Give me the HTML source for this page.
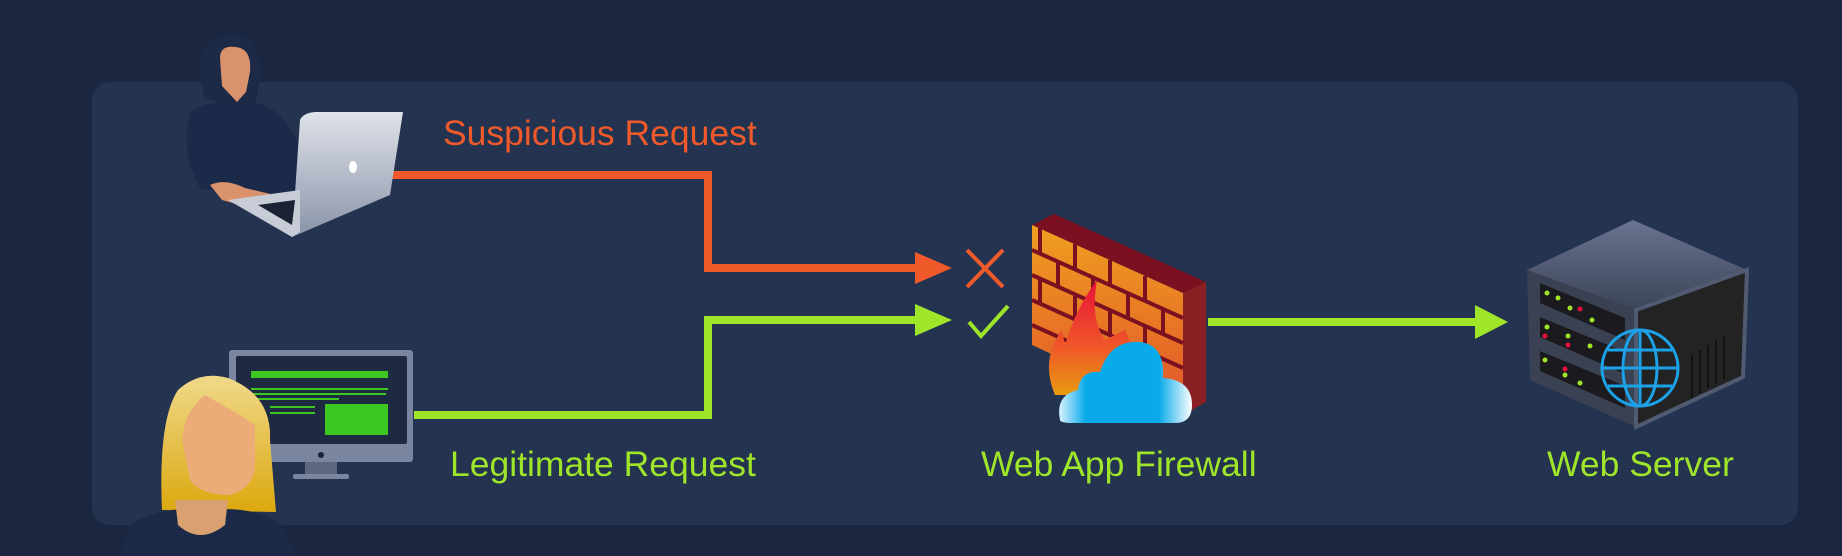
<!DOCTYPE html>
<html><head><meta charset="utf-8"><style>
html,body{margin:0;padding:0;background:#1b2640;width:1842px;height:556px;overflow:hidden}
svg{display:block}
text{font-family:"Liberation Sans",sans-serif;font-size:35.5px}
</style></head><body>
<svg width="1842" height="556" viewBox="0 0 1842 556" xmlns="http://www.w3.org/2000/svg">
<defs>
<linearGradient id="brick" x1="0" y1="0" x2="0" y2="1"><stop offset="0" stop-color="#f0a020"/><stop offset="1" stop-color="#e0502a"/></linearGradient>
<linearGradient id="flame" x1="0" y1="0" x2="0" y2="1"><stop offset="0" stop-color="#e8103a"/><stop offset="0.6" stop-color="#f05a28"/><stop offset="1" stop-color="#e89a10"/></linearGradient>
<linearGradient id="cloud" x1="0" y1="0" x2="1" y2="0"><stop offset="0" stop-color="#d8f2ff"/><stop offset="0.2" stop-color="#08aaea"/><stop offset="0.75" stop-color="#08aaea"/><stop offset="1" stop-color="#ffffff"/></linearGradient>
<linearGradient id="lap" x1="0" y1="0" x2="0" y2="1"><stop offset="0" stop-color="#dfe3ea"/><stop offset="1" stop-color="#8a93a8"/></linearGradient>
<linearGradient id="hair" x1="0" y1="0" x2="0" y2="1"><stop offset="0" stop-color="#efd98a"/><stop offset="1" stop-color="#dca80e"/></linearGradient>
<linearGradient id="srvtop" x1="0" y1="0" x2="0" y2="1"><stop offset="0" stop-color="#6a7390"/><stop offset="1" stop-color="#3c4458"/></linearGradient>
</defs>
<rect x="92" y="82" width="1706" height="443" rx="18" fill="#233350"/>

<polyline points="390,175 708,175 708,268 920,268" fill="none" stroke="#f05a2b" stroke-width="8"/>
<polygon points="915,252 952,268 915,284" fill="#f05a2b"/>
<polyline points="414,415 708,415 708,320 920,320" fill="none" stroke="#9fe52a" stroke-width="8"/>
<polygon points="915,304 952,320 915,336" fill="#9fe52a"/>
<line x1="1208" y1="322" x2="1480" y2="322" stroke="#9fe52a" stroke-width="8"/>
<polygon points="1475,305 1508,322 1475,339" fill="#9fe52a"/>
<path d="M967,250 L1003,287 M1003,250 L967,287" stroke="#f05a2b" stroke-width="4"/>
<path d="M969,322 L981,336 L1008,306" fill="none" stroke="#9fe52a" stroke-width="4"/>

<!-- hacker -->
<path d="M200,78 Q198,35 232,35 Q262,35 260,75 L256,102 L238,108 L205,98 Z" fill="#1c2a48"/>
<path d="M220,58 Q220,45 235,47 Q252,48 250,72 L246,92 L237,102 L222,86 Z" fill="#d9926c"/>
<path d="M190,112 Q215,98 238,104 Q264,100 280,115 L305,150 L300,190 L260,198 L200,188 Q180,150 190,112 Z" fill="#1c2a4a"/>
<path d="M210,185 Q225,178 245,188 L275,195 L262,210 L240,205 L222,200 Z" fill="#d9926c"/>
<path d="M300,120 Q303,113 315,112 L403,112 L390,195 L292,237 Z" fill="url(#lap)"/>
<path d="M228,200 L292,237 L300,232 L300,190 Z" fill="#c8ccd6"/>
<path d="M258,205 L292,225 L295,200 Z" fill="#1b2233"/>
<ellipse cx="353" cy="167" rx="4" ry="6" fill="#fff"/>

<!-- monitor -->
<rect x="229" y="350" width="184" height="112" rx="3" fill="#7a85a0"/>
<rect x="236" y="356" width="171" height="88" rx="2" fill="#1e2a42"/>
<rect x="251" y="371" width="137" height="7" fill="#3cc820"/>
<rect x="251" y="388" width="137" height="2" fill="#3cc820"/>
<rect x="251" y="393" width="135" height="2" fill="#3cc820"/>
<rect x="251" y="398" width="88" height="2" fill="#3cc820"/>
<rect x="325" y="404" width="63" height="31" fill="#3cc820"/>
<rect x="270" y="406" width="45" height="2" fill="#3cc820"/>
<rect x="270" y="412" width="45" height="2" fill="#3cc820"/>
<circle cx="321" cy="455" r="3" fill="#1b2233"/>
<rect x="305" y="462" width="32" height="13" fill="#5d6780"/>
<rect x="293" y="474" width="56" height="5" rx="2" fill="#7a85a0"/>

<!-- woman -->
<path d="M162,510 Q158,420 178,390 Q200,370 228,378 Q272,395 270,440 L276,512 Z" fill="url(#hair)"/>
<path d="M120,556 L130,525 Q160,505 205,510 Q255,505 282,525 L296,556 Z" fill="#1c2a48"/>
<path d="M175,500 L178,525 Q200,545 225,525 L228,500 Z" fill="#d9a070"/>
<path d="M205,395 L240,415 L255,425 L255,470 Q250,490 230,495 Q200,495 190,480 L182,440 Q185,410 205,395 Z" fill="#ecac78"/>

<!-- firewall -->
<polygon points="1032,225 1054,214 1206,282 1183,293" fill="#7a1020"/>
<polygon points="1183,293 1206,282 1206,402 1183,415" fill="#8a2024"/>
<polygon points="1032,225 1183,293 1183,415 1032,345" fill="url(#brick)"/>
<g stroke="#7a1020" stroke-width="4">
<line x1="1032" y1="250" x2="1183" y2="318"/><line x1="1032" y1="275" x2="1183" y2="343"/>
<line x1="1032" y1="300" x2="1183" y2="368"/><line x1="1032" y1="325" x2="1183" y2="393"/>
<line x1="1040" y1="228" x2="1040" y2="254"/><line x1="1075" y1="244" x2="1075" y2="270"/><line x1="1110" y1="260" x2="1110" y2="286"/><line x1="1145" y1="276" x2="1145" y2="302"/>
<line x1="1058" y1="261" x2="1058" y2="287"/><line x1="1093" y1="277" x2="1093" y2="303"/><line x1="1128" y1="293" x2="1128" y2="319"/><line x1="1163" y1="309" x2="1163" y2="335"/>
<line x1="1040" y1="279" x2="1040" y2="305"/><line x1="1075" y1="295" x2="1075" y2="321"/><line x1="1110" y1="311" x2="1110" y2="337"/><line x1="1145" y1="327" x2="1145" y2="353"/>
</g>
<path d="M1055,395 Q1040,360 1062,330 L1065,345 Q1075,310 1097,280 Q1090,320 1105,340 L1125,330 Q1140,360 1130,395 Z" fill="url(#flame)"/>
<path d="M1060,420 Q1055,395 1078,390 Q1080,370 1100,372 Q1110,340 1140,342 Q1165,345 1163,378 Q1192,380 1192,405 Q1192,423 1175,423 L1075,423 Q1060,423 1060,420 Z" fill="url(#cloud)"/>

<!-- server -->
<polygon points="1527,270 1633,220 1747,270 1636,310" fill="url(#srvtop)"/>
<polygon points="1527,270 1636,310 1636,427 1530,380" fill="#3a4152"/>
<polygon points="1636,310 1747,270 1743,377 1636,427" fill="#232323" stroke="#505a70" stroke-width="4"/>
<g fill="#1b1b1f"><polygon points="1540,283 1625,318 1625,340 1540,303"/><polygon points="1540,317 1625,352 1625,374 1540,337"/><polygon points="1540,351 1625,386 1625,408 1540,371"/></g>
<g fill="#9fe52a"><circle cx="1547" cy="293" r="2.5"/><circle cx="1558" cy="298" r="2.5"/><circle cx="1570" cy="308" r="2.5"/><circle cx="1592" cy="320" r="2.5"/><circle cx="1547" cy="327" r="2.5"/><circle cx="1568" cy="336" r="2.5"/><circle cx="1590" cy="346" r="2.5"/><circle cx="1545" cy="360" r="2.5"/><circle cx="1565" cy="375" r="2.5"/><circle cx="1580" cy="383" r="2.5"/></g>
<g fill="#e8103a"><circle cx="1580" cy="309" r="2.5"/><circle cx="1545" cy="336" r="2.5"/><circle cx="1568" cy="345" r="2.5"/><circle cx="1565" cy="369" r="2.5"/></g>
<g stroke="#111" stroke-width="2"><line x1="1700" y1="350" x2="1700" y2="393"/><line x1="1708" y1="345" x2="1708" y2="388"/><line x1="1716" y1="340" x2="1716" y2="384"/><line x1="1724" y1="336" x2="1724" y2="380"/><line x1="1692" y1="355" x2="1692" y2="398"/></g>
<g fill="none" stroke="#1aa3e8" stroke-width="3"><circle cx="1640" cy="368" r="38"/><ellipse cx="1640" cy="368" rx="17" ry="38"/><line x1="1640" y1="330" x2="1640" y2="406"/><line x1="1602" y1="368" x2="1678" y2="368"/><line x1="1608" y1="350" x2="1672" y2="350"/><line x1="1608" y1="386" x2="1672" y2="386"/></g>

<text x="443" y="145" fill="#f05a2b">Suspicious Request</text>
<text x="450" y="476" fill="#9fe52a">Legitimate Request</text>
<text x="981" y="476" fill="#9fe52a">Web App Firewall</text>
<text x="1547" y="476" fill="#9fe52a">Web Server</text>
</svg>
</body></html>
